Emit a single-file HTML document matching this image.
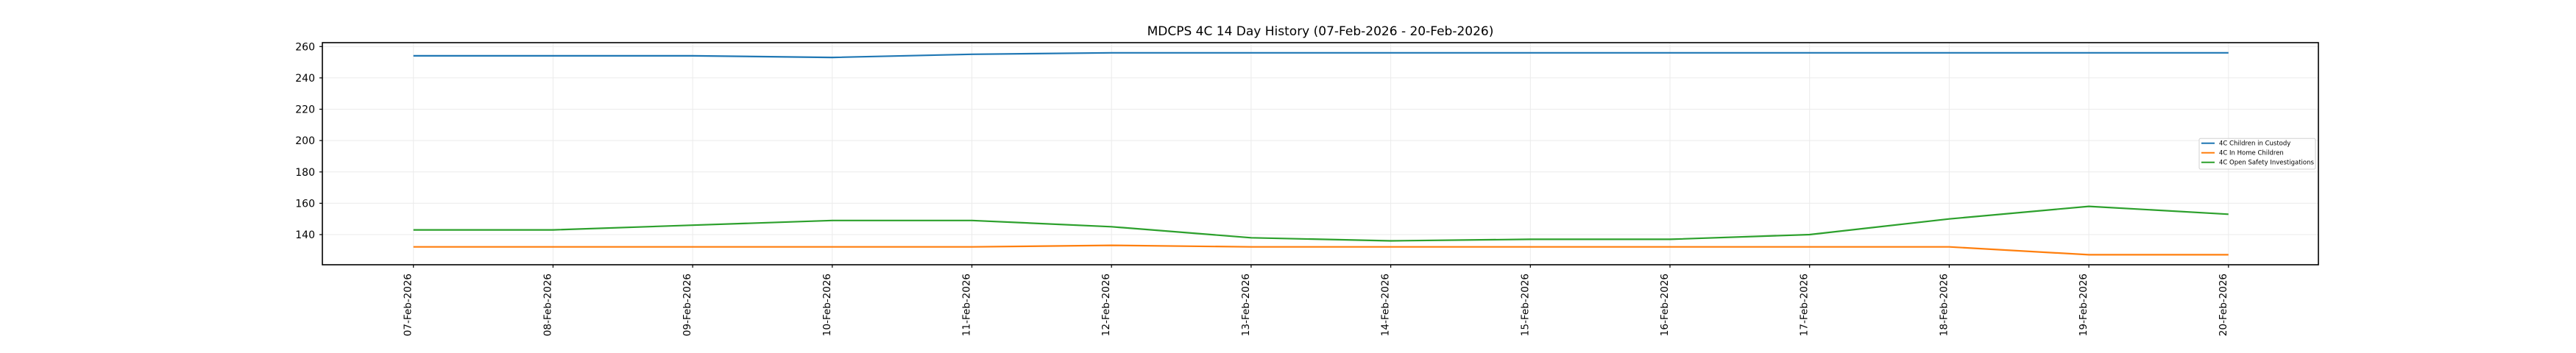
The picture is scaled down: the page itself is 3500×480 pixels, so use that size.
<!DOCTYPE html>
<html><head><meta charset="utf-8"><style>html,body{margin:0;padding:0;background:#fff}svg{display:block}</style></head>
<body>
<svg width="3500" height="480" xmlns="http://www.w3.org/2000/svg" font-family="DejaVu Sans, Liberation Sans, sans-serif">
<rect width="3500" height="480" fill="#fff"/>
<text x="1794" y="48" font-size="17" text-anchor="middle" fill="#000">MDCPS 4C 14 Day History (07-Feb-2026 - 20-Feb-2026)</text>
<g stroke="#ebebeb" stroke-width="1">
<line x1="438" x2="3150" y1="63.3" y2="63.3"/><line x1="438" x2="3150" y1="105.9" y2="105.9"/><line x1="438" x2="3150" y1="148.5" y2="148.5"/><line x1="438" x2="3150" y1="191.1" y2="191.1"/><line x1="438" x2="3150" y1="233.8" y2="233.8"/><line x1="438" x2="3150" y1="276.4" y2="276.4"/><line x1="438" x2="3150" y1="319" y2="319"/>
<line y1="58" y2="360" x1="561.7" x2="561.7"/><line y1="58" y2="360" x1="751.4" x2="751.4"/><line y1="58" y2="360" x1="941.1" x2="941.1"/><line y1="58" y2="360" x1="1130.8" x2="1130.8"/><line y1="58" y2="360" x1="1320.5" x2="1320.5"/><line y1="58" y2="360" x1="1510.2" x2="1510.2"/><line y1="58" y2="360" x1="1699.9" x2="1699.9"/><line y1="58" y2="360" x1="1889.6" x2="1889.6"/><line y1="58" y2="360" x1="2079.3" x2="2079.3"/><line y1="58" y2="360" x1="2269" x2="2269"/><line y1="58" y2="360" x1="2458.7" x2="2458.7"/><line y1="58" y2="360" x1="2648.4" x2="2648.4"/><line y1="58" y2="360" x1="2838.1" x2="2838.1"/><line y1="58" y2="360" x1="3027.8" x2="3027.8"/>
</g>
<g fill="none" stroke-width="2.2" stroke-linejoin="round">
<polyline stroke="#1f77b4" points="561.7,75.9 751.4,75.9 941.1,75.9 1130.8,78.1 1320.5,73.8 1510.2,71.8 1699.9,71.8 1889.6,71.8 2079.3,71.8 2269,71.8 2458.7,71.8 2648.4,71.8 2838.1,71.8 3027.8,71.8"/>
<polyline stroke="#ff7f0e" points="561.7,335.7 751.4,335.7 941.1,335.7 1130.8,335.7 1320.5,335.7 1510.2,333.6 1699.9,335.7 1889.6,335.7 2079.3,335.7 2269,335.7 2458.7,335.7 2648.4,335.7 2838.1,346.4 3027.8,346.4"/>
<polyline stroke="#2ca02c" points="561.7,312.6 751.4,312.6 941.1,306.2 1130.8,299.8 1320.5,299.8 1510.2,308.3 1699.9,323.3 1889.6,327.5 2079.3,325.4 2269,325.4 2458.7,319 2648.4,297.7 2838.1,280.6 3027.8,291.3"/>
</g>
<rect x="438" y="58" width="2712" height="302" fill="none" stroke="#000" stroke-width="1.6"/>
<g stroke="#000" stroke-width="1.2">
<line x1="434" x2="438" y1="63.3" y2="63.3"/><line x1="434" x2="438" y1="105.9" y2="105.9"/><line x1="434" x2="438" y1="148.5" y2="148.5"/><line x1="434" x2="438" y1="191.1" y2="191.1"/><line x1="434" x2="438" y1="233.8" y2="233.8"/><line x1="434" x2="438" y1="276.4" y2="276.4"/><line x1="434" x2="438" y1="319" y2="319"/>
<line y1="360" y2="364" x1="561.7" x2="561.7"/><line y1="360" y2="364" x1="751.4" x2="751.4"/><line y1="360" y2="364" x1="941.1" x2="941.1"/><line y1="360" y2="364" x1="1130.8" x2="1130.8"/><line y1="360" y2="364" x1="1320.5" x2="1320.5"/><line y1="360" y2="364" x1="1510.2" x2="1510.2"/><line y1="360" y2="364" x1="1699.9" x2="1699.9"/><line y1="360" y2="364" x1="1889.6" x2="1889.6"/><line y1="360" y2="364" x1="2079.3" x2="2079.3"/><line y1="360" y2="364" x1="2269" x2="2269"/><line y1="360" y2="364" x1="2458.7" x2="2458.7"/><line y1="360" y2="364" x1="2648.4" x2="2648.4"/><line y1="360" y2="364" x1="2838.1" x2="2838.1"/><line y1="360" y2="364" x1="3027.8" x2="3027.8"/>
</g>
<g font-size="14" text-anchor="end" fill="#000">
<text x="428" y="68.3">260</text><text x="428" y="110.9">240</text><text x="428" y="153.5">220</text><text x="428" y="196.1">200</text><text x="428" y="238.8">180</text><text x="428" y="281.4">160</text><text x="428" y="324">140</text>
</g>
<g font-size="13.5" text-anchor="end" fill="#000">
<text transform="translate(558.7,372) rotate(-90)">07-Feb-2026</text>
<text transform="translate(748.4,372) rotate(-90)">08-Feb-2026</text>
<text transform="translate(938.1,372) rotate(-90)">09-Feb-2026</text>
<text transform="translate(1127.8,372) rotate(-90)">10-Feb-2026</text>
<text transform="translate(1317.5,372) rotate(-90)">11-Feb-2026</text>
<text transform="translate(1507.2,372) rotate(-90)">12-Feb-2026</text>
<text transform="translate(1696.9,372) rotate(-90)">13-Feb-2026</text>
<text transform="translate(1886.6,372) rotate(-90)">14-Feb-2026</text>
<text transform="translate(2076.3,372) rotate(-90)">15-Feb-2026</text>
<text transform="translate(2266,372) rotate(-90)">16-Feb-2026</text>
<text transform="translate(2455.7,372) rotate(-90)">17-Feb-2026</text>
<text transform="translate(2645.4,372) rotate(-90)">18-Feb-2026</text>
<text transform="translate(2835.1,372) rotate(-90)">19-Feb-2026</text>
<text transform="translate(3024.8,372) rotate(-90)">20-Feb-2026</text>
</g>
<rect x="2988" y="188.3" width="158" height="41.7" rx="2" fill="#fff" fill-opacity="0.85" stroke="#d0d0d0" stroke-width="1"/>
<g stroke-width="2">
<line x1="2991" x2="3009" y1="194.7" y2="194.7" stroke="#1f77b4"/>
<line x1="2991" x2="3009" y1="207.7" y2="207.7" stroke="#ff7f0e"/>
<line x1="2991" x2="3009" y1="220.7" y2="220.7" stroke="#2ca02c"/>
</g>
<g font-size="8.5" fill="#000">
<text x="3015" y="197.6">4C Children in Custody</text>
<text x="3015" y="210.6">4C In Home Children</text>
<text x="3015" y="223.6">4C Open Safety Investigations</text>
</g>
</svg>
</body></html>
